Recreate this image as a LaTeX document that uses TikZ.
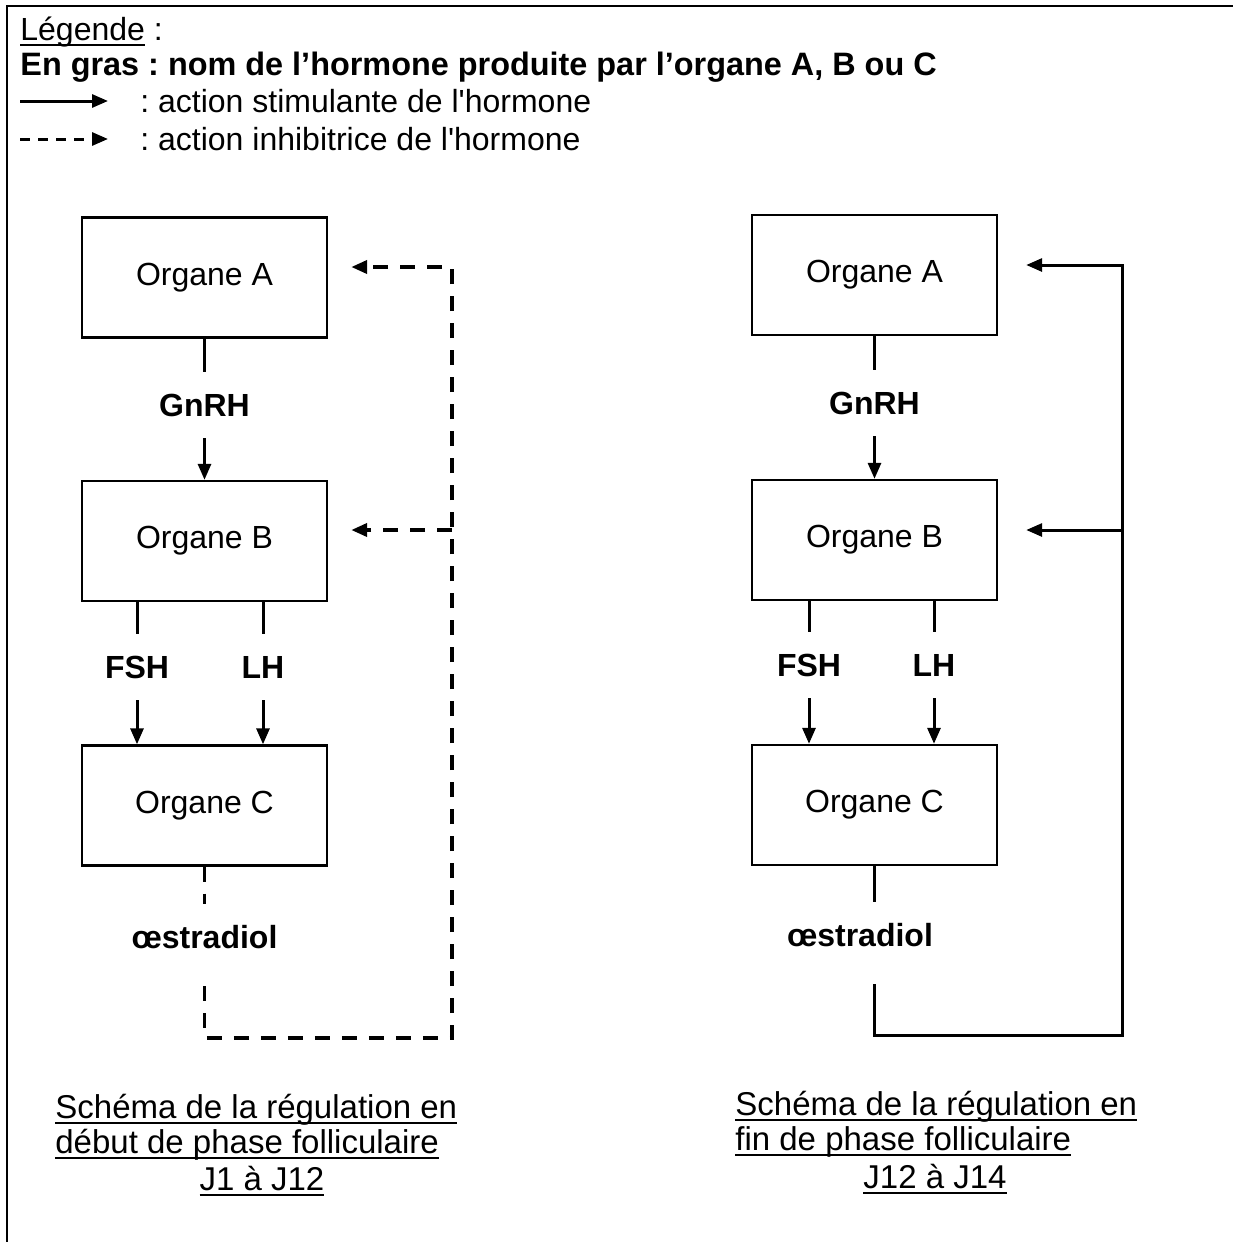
\documentclass[tikz,border=0pt]{standalone}
\usepackage{fontspec}
\setmainfont{Liberation Sans}
\usetikzlibrary{arrows.meta,positioning}
\frenchspacing
\newcommand\souligne[1]{\setbox0\hbox{#1}\rlap{\vrule height -2.2pt depth 3.1pt width \wd0}\box0\relax}

\begin{document}
\begin{tikzpicture}[x=0.5pt,y=-0.5pt,>={Triangle[length=8pt,width=6.5pt]},
    organe/.style={draw,line width=1.2pt,minimum width=122.5pt,minimum height=60pt,inner sep=0pt,font=\fontsize{16}{19}\selectfont},
    hormone/.style={anchor=base,inner sep=0pt,font=\fontsize{16}{19}\selectfont\bfseries,text height=22pt,text depth=11pt},
    lien/.style={line width=1.5pt},
    stim/.style={->,line width=1.5pt},
    pointille/.style={line width=1.9pt,dash pattern=on 7.5pt off 6pt},
    inhib/.style={->,pointille},
    txt/.style={anchor=base west,inner sep=0pt,font=\fontsize{16}{19}\selectfont},
    titre/.style={anchor=base west,inner sep=0pt,font=\fontsize{16.5}{20}\selectfont}]
  \useasboundingbox (0,0) rectangle (1233,1242);
  % cadre
  \coordinate (cadreSO) at (7,1242);
  \coordinate (cadreNO) at (7,6);
  \coordinate (cadreNE) at (1233,6);
  \draw[line width=1pt] (cadreSO) -- (cadreNO) -- (cadreNE);

  % legende
  \node[txt] (leg) at (20,40) {\souligne{Légende} :};
  \node[txt,font=\fontsize{16.2}{19}\selectfont\bfseries] (gras) at (20,75) {En gras : nom de l’hormone produite par l’organe A, B ou C};
  \coordinate (s0) at (20,101);
  \coordinate (s1) at (108,101);
  \coordinate (i0) at (20,139);
  \coordinate (i1) at (108,139);
  \draw[stim] (s0) -- (s1);
  \draw[->,line width=1.5pt,dash pattern=on 5pt off 4pt] (i0) -- (i1);
  \node[txt] (stimtxt) at (140,112) {: action stimulante de l\textquotesingle hormone};
  \node[txt] (inhibtxt) at (140,150) {: action inhibitrice de l\textquotesingle hormone};

  % debut de phase folliculaire
  \node[organe] (a1) at (204.5,277.5) {Organe A};
  \node[organe] (b1) at (204.5,541) {Organe B};
  \node[organe] (c1) at (204.5,805.5) {Organe C};
  \node[hormone] (gnrh1) at (204.5,416) {GnRH};
  \node[hormone] (fsh1) at (137,678) {FSH};
  \node[hormone] (lh1) at (263,678) {LH};
  \node[hormone,text depth=19pt] (oest1) at (204.5,948) {œstradiol};
  \draw[lien] (a1) -- (gnrh1);
  \draw[stim] (gnrh1) -- (b1);
  \draw[lien] (fsh1.north |- b1.south) -- (fsh1.north);
  \draw[stim] (fsh1.south) -- (fsh1.south |- c1.north);
  \draw[lien] (lh1.north |- b1.south) -- (lh1.north);
  \draw[stim] (lh1.south) -- (lh1.south |- c1.north);
  \draw[pointille] (c1) -- (oest1);
  \coordinate (k1) at (452,1038);
  \coordinate (ka1) at (452,267);
  \coordinate (kb1) at (452,530);
  \draw[inhib] (oest1.south) |- (k1) -- (ka1) -- ([xshift=11.5pt]a1.east |- ka1);
  \draw[inhib] (kb1) -- ([xshift=11.5pt]b1.east |- kb1);
  \node[titre] (t1a) at (55,1118) {\souligne{Schéma de la régulation en}};
  \node[titre] (t1b) at (55,1153) {\souligne{début de phase folliculaire}};
  \node[titre,anchor=base] (t1c) at (262,1190) {\souligne{J1 à J12}};

  % fin de phase folliculaire
  \node[organe] (a2) at (874.5,275) {Organe A};
  \node[organe] (b2) at (874.5,540) {Organe B};
  \node[organe] (c2) at (874.5,805) {Organe C};
  \node[hormone] (gnrh2) at (874.5,414) {GnRH};
  \node[hormone] (fsh2) at (809,676) {FSH};
  \node[hormone] (lh2) at (934,676) {LH};
  \node[hormone,text depth=19pt] (oest2) at (860,946) {œstradiol};
  \draw[lien] (a2) -- (gnrh2);
  \draw[stim] (gnrh2) -- (b2);
  \draw[lien] (fsh2.north |- b2.south) -- (fsh2.north);
  \draw[stim] (fsh2.south) -- (fsh2.south |- c2.north);
  \draw[lien] (lh2.north |- b2.south) -- (lh2.north);
  \draw[stim] (lh2.south) -- (lh2.south |- c2.north);
  \draw[lien] (c2) -- (c2 |- oest2.north);
  \coordinate (k2) at (1122,1035);
  \coordinate (ka2) at (1122,265);
  \coordinate (kb2) at (1122,530);
  \draw[stim] (c2 |- oest2.south) |- (k2) -- (ka2) -- ([xshift=14pt]a2.east |- ka2);
  \draw[stim] (kb2) -- ([xshift=14pt]b2.east |- kb2);
  \node[titre] (t2a) at (735,1115) {\souligne{Schéma de la régulation en}};
  \node[titre] (t2b) at (735,1150) {\souligne{fin de phase folliculaire}};
  \node[titre,anchor=base] (t2c) at (935,1188) {\souligne{J12 à J14}};
\end{tikzpicture}
\end{document}
